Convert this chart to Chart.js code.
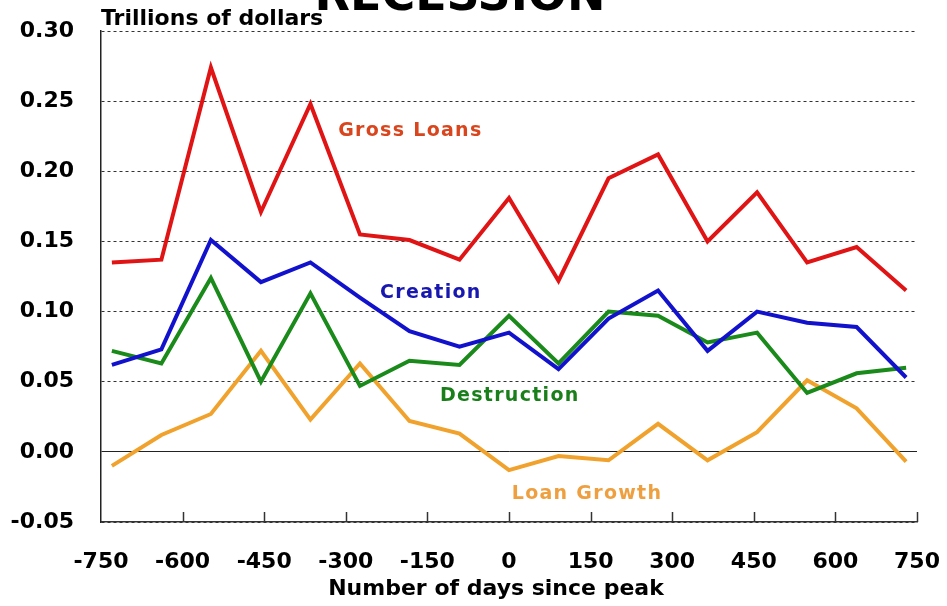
<!DOCTYPE html>
<html>
<head>
<meta charset="utf-8">
<script src="https://cdn.jsdelivr.net/npm/chart.js@4.4.1/dist/chart.umd.min.js"></script>
<style>
body { margin: 0; background: #fff; }
#wrap { width: 947px; height: 606px; }
</style>
</head>
<body>
<div id="wrap"><canvas id="chart" width="947" height="606"></canvas></div>
<script>
// quarters around the peak, in days
const DAYS = [-730, -639, -548, -456, -365, -274, -183, -91, 0, 91, 183, 274, 365, 456, 548, 639, 730];
const GROSS_LOANS = [0.135, 0.137, 0.274, 0.171, 0.248, 0.155, 0.151, 0.137, 0.181, 0.122, 0.195, 0.212, 0.150, 0.185, 0.135, 0.146, 0.115];
const CREATION = [0.062, 0.073, 0.151, 0.121, 0.135, 0.110, 0.086, 0.075, 0.085, 0.059, 0.095, 0.115, 0.072, 0.100, 0.092, 0.089, 0.053];
const DESTRUCTION = [0.072, 0.063, 0.124, 0.050, 0.113, 0.047, 0.065, 0.062, 0.097, 0.063, 0.100, 0.097, 0.078, 0.085, 0.042, 0.056, 0.060];
const LOAN_GROWTH = [-0.010, 0.012, 0.027, 0.072, 0.023, 0.063, 0.022, 0.013, -0.013, -0.003, -0.006, 0.020, -0.006, 0.014, 0.051, 0.031, -0.007];

const X_TICKS = [-750, -600, -450, -300, -150, 0, 150, 300, 450, 600, 750];
const Y_TICKS = [-0.05, 0.00, 0.05, 0.10, 0.15, 0.20, 0.25, 0.30];

// series names placed inside the plot, anchored in data units
const SERIES_LABELS = [
    { text: 'Gross Loans', day: -314, value: 0.229, color: '#d9461e' },
    { text: 'Creation', day: -237, value: 0.113, color: '#1818b0' },
    { text: 'Destruction', day: -127, value: 0.040, color: '#1a7f1a' },
    { text: 'Loan Growth', day: 5, value: -0.030, color: '#eea040' }
];

const COLORS = {
    red: '#e01414',
    blue: '#1212cc',
    green: '#1a8a1a',
    orange: '#f0a22c'
};

const FONT = 'DejaVu Sans';

function to_points(ys) {
    var pts = [];
    for (var i = 0; i < DAYS.length; i++) {
        pts.push({ x: DAYS[i], y: ys[i] });
    }
    return pts;
}

function make_series(label, ys, color) {
    return {
        label: label,
        data: to_points(ys),
        borderColor: color,
        backgroundColor: color,
        borderWidth: 4,
        pointRadius: 0,
        tension: 0,
        fill: false
    };
}

const text_plugin = {
    id: 'text_plugin',
    afterDatasetsDraw: (chart) => {
        const ctx = chart.ctx;
        const xs = chart.scales.x;
        const ys = chart.scales.y;
        ctx.save();
        // inward tick marks on the x axis
        ctx.strokeStyle = '#333';
        ctx.lineWidth = 1.5;
        xs.ticks.forEach((t, i) => {
            if (i === 0) return;
            const px = Math.round(xs.getPixelForValue(t.value)) + 0.5;
            ctx.beginPath();
            ctx.moveTo(px, ys.bottom);
            ctx.lineTo(px, ys.bottom - 10);
            ctx.stroke();
        });

        ctx.textBaseline = 'middle';
        ctx.textAlign = 'left';
        ctx.font = 'bold 19px ' + FONT;
        ctx.letterSpacing = '1.3px';
        SERIES_LABELS.forEach((l) => {
            ctx.fillStyle = l.color;
            ctx.fillText(l.text, xs.getPixelForValue(l.day), ys.getPixelForValue(l.value));
        });
        ctx.letterSpacing = '0px';

        ctx.fillStyle = '#000';
        ctx.textBaseline = 'alphabetic';
        ctx.font = 'bold 22px ' + FONT;
        ctx.fillText('Trillions of dollars', 101, 25);

        ctx.textAlign = 'center';
        ctx.fillText('Number of days since peak', 496, 595);

        ctx.font = 'bold 46px ' + FONT;
        ctx.fillText('RECESSION', 460, 10);
        ctx.restore();
    }
};

const config = {
    type: 'line',
    data: {
        datasets: [
            make_series('Gross Loans', GROSS_LOANS, COLORS.red),
            make_series('Creation', CREATION, COLORS.blue),
            make_series('Destruction', DESTRUCTION, COLORS.green),
            make_series('Loan Growth', LOAN_GROWTH, COLORS.orange)
        ]
    },
    options: {
        responsive: false,
        animation: false,
        layout: {
            padding: { top: 31, right: 0, left: 0, bottom: 0 }
        },
        scales: {
            x: {
                type: 'linear',
                min: X_TICKS[0],
                max: X_TICKS[X_TICKS.length - 1],
                afterBuildTicks: (scale) => {
                    scale.ticks = X_TICKS.map(v => ({ value: v }));
                },
                afterFit: (scale) => {
                    scale.height = 84;
                    scale.paddingLeft = 0;
                    scale.paddingRight = 30;
                },
                grid: { display: false, drawTicks: false },
                border: { display: true, color: '#333', width: 1.5 },
                ticks: {
                    color: '#000',
                    padding: 27,
                    maxRotation: 0,
                    autoSkip: false,
                    font: { family: FONT, size: 22, weight: 'bold' },
                    callback: (v) => String(v)
                }
            },
            y: {
                min: Y_TICKS[0],
                max: Y_TICKS[Y_TICKS.length - 1],
                afterBuildTicks: (scale) => {
                    scale.ticks = Y_TICKS.map(v => ({ value: v }));
                },
                afterFit: (scale) => {
                    scale.width = 101;
                    scale.paddingTop = 0;
                    scale.paddingBottom = 0;
                },
                grid: {
                    drawTicks: false,
                    color: (c) => (c.tick && c.tick.value === 0) ? '#222' : '#333',
                    lineWidth: 1
                },
                border: {
                    display: true,
                    color: '#222',
                    width: 1.5,
                    dash: (c) => (c.tick && c.tick.value !== 0) ? [3, 3] : []
                },
                ticks: {
                    color: '#000',
                    padding: 27,
                    font: { family: FONT, size: 22, weight: 'bold' },
                    callback: (v) => v.toFixed(2)
                }
            }
        },
        plugins: {
            legend: { display: false },
            tooltip: { enabled: false },
            title: { display: false }
        }
    },
    plugins: [text_plugin]
};

Chart.defaults.color = '#000';
new Chart(document.getElementById('chart').getContext('2d'), config);
</script>
</body>
</html>
